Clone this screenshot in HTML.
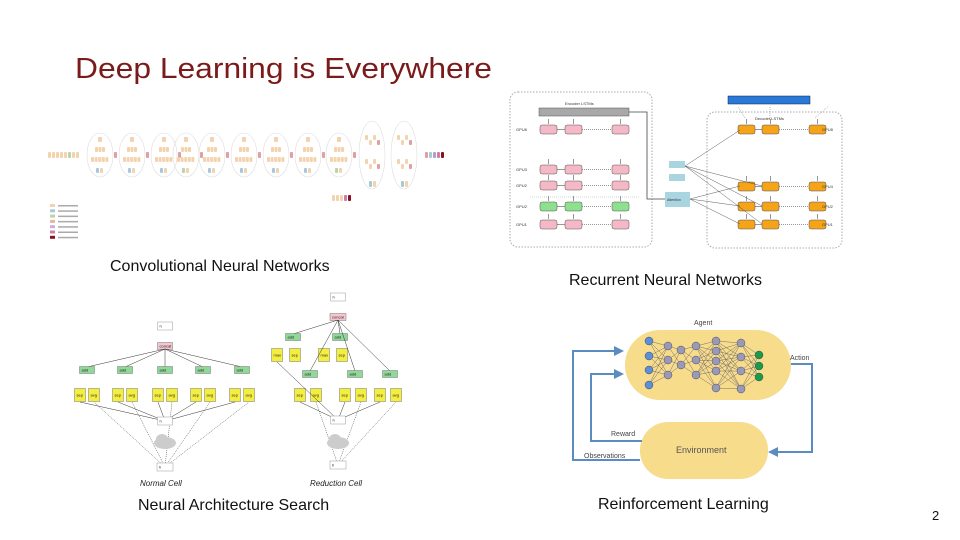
<!DOCTYPE html>
<html><head><meta charset="utf-8"><style>
html,body{margin:0;padding:0;background:#fff}
svg{display:block}
text{font-family:"Liberation Sans",sans-serif}
</style></head><body>
<svg id="s" width="960" height="540" viewBox="0 0 960 540" xmlns="http://www.w3.org/2000/svg">
<defs>
<marker id="a" markerWidth="5" markerHeight="5" refX="4" refY="2.5" orient="auto"><path d="M0,0L5,2.5L0,5z" fill="#222"/></marker>
<marker id="b" markerWidth="5" markerHeight="5" refX="4" refY="2.5" orient="auto"><path d="M0,0L5,2.5L0,5z" fill="#5b8cc0"/></marker>
</defs>
<text x="75" y="78" font-size="29" fill="#7a1a1a" textLength="417" lengthAdjust="spacingAndGlyphs">Deep Learning is Everywhere</text>
<text x="110" y="271" font-size="16" fill="#111">Convolutional Neural Networks</text>
<text x="569" y="285" font-size="16" fill="#111">Recurrent Neural Networks</text>
<text x="138" y="510" font-size="16" fill="#111">Neural Architecture Search</text>
<text x="598" y="509" font-size="16" fill="#111">Reinforcement Learning</text>
<text x="932" y="520" font-size="13" fill="#111">2</text>

<g id="cnn"></g>
<g id="rnn" font-size="4" fill="#333">
<rect x="510" y="92" width="142" height="155" rx="8" fill="none" stroke="#aaa" stroke-dasharray="1.5,1.5"/>
<rect x="707" y="112" width="135" height="136" rx="8" fill="none" stroke="#aaa" stroke-dasharray="1.5,1.5"/>
<rect x="539" y="108" width="90" height="8" fill="#a8a8a8" stroke="#555" stroke-width=".5"/>
<text x="565" y="105">Encoder LSTMs</text>
<rect x="728" y="96" width="82" height="8" fill="#2a78d8" stroke="#124" stroke-width=".5"/>
<text x="755" y="120">Decoder LSTMs</text>
<polyline points="629,112 647,112 647,199 665,199" fill="none" stroke="#444" stroke-width=".8"/>
<rect x="665" y="192" width="25" height="15" fill="#a9d5e0"/>
<text x="667" y="201" font-size="3.5">Attention</text>
<rect x="669" y="161" width="16" height="7" fill="#a9d5e0"/>
<rect x="669" y="174" width="16" height="7" fill="#a9d5e0"/>
<g id="rnnb"></g>
</g>
<g id="nas" font-size="4" fill="#222"></g>
<g id="rl">
<rect x="625" y="330" width="166" height="70" rx="35" fill="#f7dc8c"/>
<rect x="640" y="422" width="128" height="57" rx="28" fill="#f7dc8c"/>
<text x="694" y="325" font-size="7" fill="#444">Agent</text>
<text x="790" y="360" font-size="7" fill="#444">Action</text>
<text x="611" y="436" font-size="7" fill="#444">Reward</text>
<text x="584" y="458" font-size="7" fill="#444">Observations</text>
<text x="676" y="453" font-size="9" fill="#555">Environment</text>
<polyline points="791,364 812,364 812,452 770,452" fill="none" stroke="#5b8cc0" stroke-width="2" marker-end="url(#b)"/>
<polyline points="640,460 573,460 573,351 622,351" fill="none" stroke="#5b8cc0" stroke-width="2" marker-end="url(#b)"/>
<polyline points="642,441 591,441 591,374 622,374" fill="none" stroke="#5b8cc0" stroke-width="2" marker-end="url(#b)"/>
<g id="nn"></g>
</g>
</svg>
<script>
var NS="http://www.w3.org/2000/svg";
function el(p,t,a,txt){var e=document.createElementNS(NS,t);for(var k in a)e.setAttribute(k,a[k]);if(txt)e.textContent=txt;document.getElementById(p).appendChild(e);return e;}
var c='cnn';
for(var i=0;i<8;i++)el(c,'rect',{x:48+i*4,y:152,width:3,height:6,rx:1,fill:i==5?'#b7d5a8':'#f2d3ad'});
var mods=[[100,0],[132,0],[164,0],[186,1],[212,0],[244,0],[276,0],[308,0],[339,1]];
mods.forEach(function(m,j){var cx=m[0];el(c,'ellipse',{cx:cx,cy:155,rx:13,ry:22,fill:'none',stroke:'#ddd','stroke-width':.6});
el(c,'rect',{x:cx-2,y:137,width:4,height:5,rx:1,fill:'#f2d3ad'});
for(var k=0;k<3;k++)el(c,'rect',{x:cx-5+k*3.5,y:147,width:3,height:5,rx:1,fill:'#f2d3ad'});
for(var k=0;k<5;k++)el(c,'rect',{x:cx-9+k*3.6,y:157,width:3,height:5,rx:1,fill:'#f2d3ad'});
el(c,'rect',{x:cx-4,y:168,width:3,height:5,rx:1,fill:m[1]?'#b7d5a8':'#a9c8d8'});el(c,'rect',{x:cx,y:168,width:3,height:5,rx:1,fill:'#f2d3ad'});
el(c,'rect',{x:cx+14,y:152,width:3,height:6,rx:1,fill:'#e0a0a0'});});
[[372],[404]].forEach(function(m){var cx=m[0];el(c,'ellipse',{cx:cx,cy:155,rx:13,ry:34,fill:'none',stroke:'#ddd','stroke-width':.6});
for(var k=0;k<8;k++)el(c,'rect',{x:cx-7+(k%4)*4,y:135+Math.floor(k/4)*24+(k%2)*5,width:3,height:5,rx:1,fill:k%4==3?'#e0a0a0':'#f2d3ad'});
el(c,'rect',{x:cx-3,y:181,width:3,height:6,rx:1,fill:'#a9c8d8'});el(c,'rect',{x:cx+1,y:181,width:3,height:6,rx:1,fill:'#f2d3ad'});});
['#e0a0a0','#a9c8d8','#b0a0c8','#c880a8','#8b1020'].forEach(function(f,k){el(c,'rect',{x:425+k*4,y:152,width:3,height:6,rx:1,fill:f});el(c,'rect',{x:332+k*4,y:195,width:3,height:6,rx:1,fill:k==4?'#8b1020':k==3?'#c880a8':'#f2d3ad'});});
['#f2d3ad','#a9c8d8','#b7d5a8','#e6b6a0','#c8b0d8','#c880a8','#8b1020'].forEach(function(f,k){el(c,'rect',{x:50,y:204+k*5.3,width:5,height:3,fill:f});el(c,'rect',{x:58,y:205+k*5.3,width:20,height:1.5,fill:'#aaa'});});
var r='rnnb',xs=[540,565,612],ys=[125,165,181,202,220];
ys.forEach(function(y,i){xs.forEach(function(x,j){el(r,'rect',{x:x,y:y,width:17,height:9,rx:2,fill:i==3?'#8ee08e':'#f5b8c6',stroke:'#555','stroke-width':.5});
if(j<2)el(r,'line',{x1:x+17,y1:y+4.5,x2:xs[j+1],y2:y+4.5,stroke:'#333','stroke-width':.5,'stroke-dasharray':j==1?'1,1':''});
el(r,'line',{x1:x+8.5,y1:y-1,x2:x+8.5,y2:y-6,stroke:'#333','stroke-width':.5});});
el(r,'text',{x:516,y:y+6},['GPU8','GPU3','GPU2','GPU2','GPU1'][i]);});
el(r,'line',{x1:530,y1:197,x2:640,y2:197,stroke:'#999','stroke-width':.4,'stroke-dasharray':'1,1'});
var dx=[738,762,809],dy=[125,182,202,220];
dy.forEach(function(y){dx.forEach(function(x,j){el(r,'rect',{x:x,y:y,width:17,height:9,rx:2,fill:'#f5a419',stroke:'#555','stroke-width':.5});
if(j<2)el(r,'line',{x1:x+17,y1:y+4.5,x2:dx[j+1],y2:y+4.5,stroke:'#333','stroke-width':.5,'stroke-dasharray':j==1?'1,1':''});
el(r,'line',{x1:x+8.5,y1:y-1,x2:x+8.5,y2:y-6,stroke:'#333','stroke-width':.5});});});
['GPU8','GPU4','GPU2','GPU1'].forEach(function(t,i){el(r,'text',{x:822,y:dy[i]+6},t);});
[0,1,2].forEach(function(i){el(r,'line',{x1:690,y1:199,x2:dx[0]+2,y2:dy[i+1]+4,stroke:'#333','stroke-width':.4});el(r,'line',{x1:685,y1:166,x2:dx[1],y2:dy[i+1]+4,stroke:'#333','stroke-width':.4});});
el(r,'line',{x1:685,y1:166,x2:740,y2:130,stroke:'#333','stroke-width':.4});
[745,770,815].forEach(function(x){el(r,'line',{x1:x,y1:118,x2:x+(x-770)*0.3,y2:106,stroke:'#555','stroke-width':.4,'stroke-dasharray':'1,1'});});
var n='nas';
function box(x,y,w,h,f,t){el(n,'rect',{x:x-w/2,y:y-h/2,width:w,height:h,fill:f,stroke:f=='#fff'?'#999':'#777','stroke-width':.5});if(t)el(n,'text',{x:x-w/2+2,y:y+1.5},t);}
function ln(a,b,c,d,dash){el(n,'line',{x1:a,y1:b,x2:c,y2:d,stroke:'#333','stroke-width':.5,'stroke-dasharray':dash?'1,1':''});}
function cloud(x,y){el(n,'ellipse',{cx:x,cy:y,rx:11,ry:6,fill:'#ccc'});el(n,'ellipse',{cx:x-3,cy:y-4,rx:6,ry:5,fill:'#ccc'});}
var ax=[87,125,165,203,242];
box(165,326,15,8,'#fff','h');box(165,346,15,7,'#f5c6cf','concat');
ax.forEach(function(x){ln(165,349,x,367);box(x,370,15,7,'#90d898','add');box(x-7,395,11,13,'#f3ee40','sep');box(x+7,395,11,13,'#f3ee40','avg');ln(165,421,x-7,402);ln(165,467,x+7,402,1);});
box(165,421,15,8,'#fff','h');cloud(165,443);box(165,467,16,8,'#fff','h');
el(n,'text',{x:140,y:486,'font-size':8,'font-style':'italic'},'Normal Cell');
box(338,297,15,8,'#fff','h');box(338,317,16,7,'#f5c6cf','concat');
[293,340].forEach(function(x){ln(338,320,x,334);box(x,337,15,7,'#90d898','add');box(x-16,355,11,13,'#f3ee40','max');box(x+2,355,11,13,'#f3ee40','sep');});
[310,355,390].forEach(function(x){ln(338,320,x,371);box(x,374,15,7,'#90d898','add');box(x-10,395,11,13,'#f3ee40','sep');box(x+6,395,11,13,'#f3ee40','avg');ln(338,420,x-10,402);ln(338,465,x+6,402,1);});
ln(338,420,277,362);
box(338,420,15,8,'#fff','h');cloud(338,443);box(338,465,16,8,'#fff','h');
el(n,'text',{x:310,y:486,'font-size':8,'font-style':'italic'},'Reduction Cell');
var L=[[649,[341,356,370,385]],[668,[346,360,375]],[681,[350,365]],[696,[346,360,375]],[716,[341,351,361,371,388]],[741,[343,357,371,389]],[759,[355,366,377]]];
for(var i=0;i<L.length-1;i++)L[i][1].forEach(function(y){L[i+1][1].forEach(function(y2){el('nn','line',{x1:L[i][0],y1:y,x2:L[i+1][0],y2:y2,stroke:'#556',"stroke-width":.4});});});
L.forEach(function(l,i){l[1].forEach(function(y){el('nn','circle',{cx:l[0],cy:y,r:4,fill:i==0?'#5b8fd8':i==6?'#1a9a4a':'#9a9ab8',stroke:'#334','stroke-width':.4});});});
</script>
</body></html>
